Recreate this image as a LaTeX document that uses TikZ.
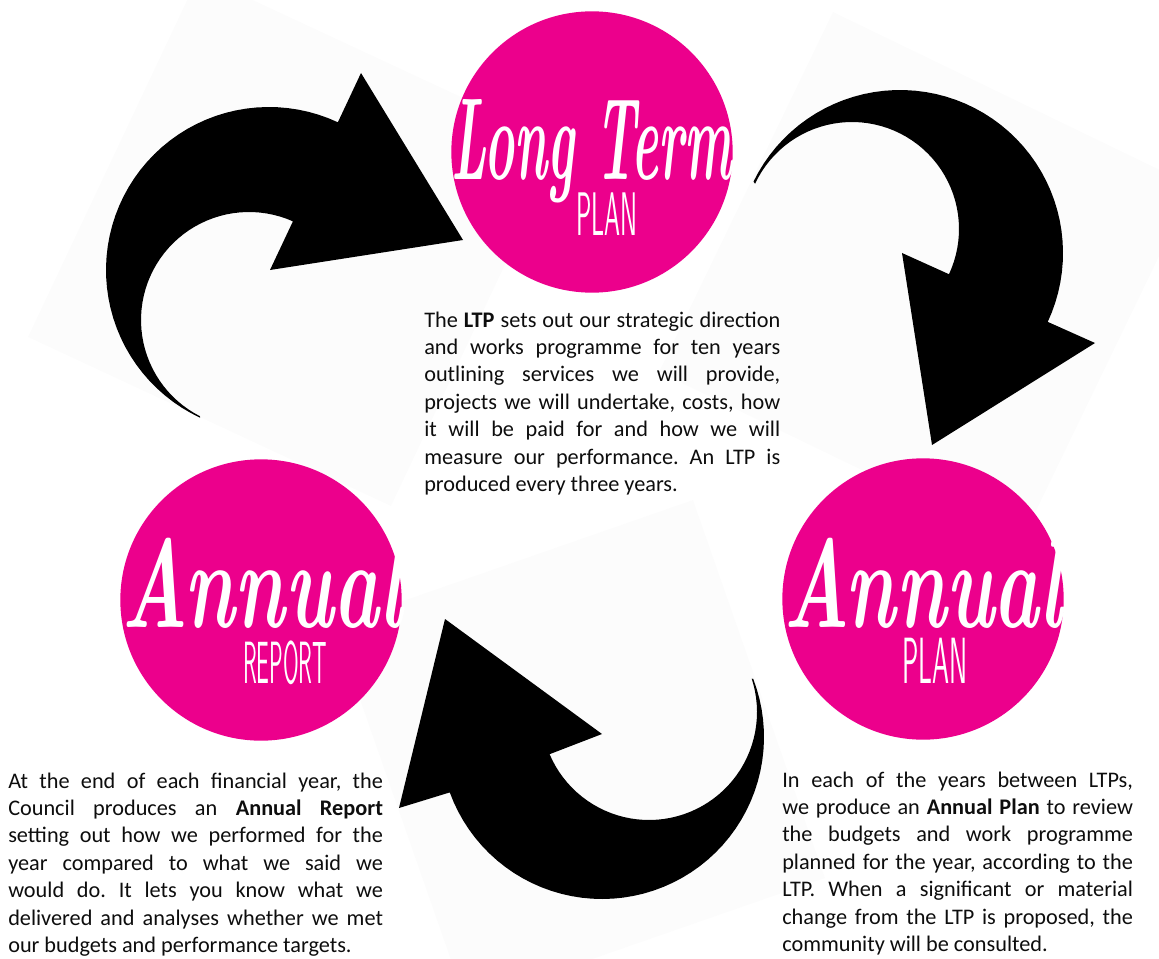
\documentclass[tikz,border=0pt]{standalone}
\usepackage{fontspec}
\setmainfont{Carlito}
\newfontfamily\brushfont{Latin Modern Roman}
\usepackage{graphicx}
\usepackage{tikz}
\usetikzlibrary{calc, positioning}
\definecolor{ltpmagenta}{HTML}{EC008C}
\frenchspacing

\begin{document}
\begin{tikzpicture}[
    x=0.75pt, y=-0.75pt,
    every node/.style={inner sep=0pt},
    stage/.style={circle, fill=ltpmagenta, minimum size=211pt},
    bigword/.style={anchor=base, text=white},
    smallword/.style={anchor=base, text=white},
    bodytext/.style={anchor=base west, align=justify, text=black!95,
        font=\fontsize{16.7pt}{20.6pt}\selectfont},
    backsheet/.style={fill=black!1},
    cyclearrow/.style={fill=black}
]

\useasboundingbox (0,0) rectangle (1159,959);

% faint sheets behind the arrows
\fill[backsheet] (28,337) -- (391,506) -- (562,144) -- (199,-25) -- cycle;
\fill[backsheet] (833,12) -- (1193,186) -- (1019,546) -- (659,372) -- cycle;
\fill[backsheet] (693,500) -- (334,625) -- (466,1003) -- (825,878) -- cycle;

% arrow: report -> long term plan (outer arc, head, inner arc)
\fill[cyclearrow] plot[domain=115:295, samples=50] ({269+163*cos(\x)}, {270+163*sin(\x)})
    -- (361,73) -- (463,240) -- (270,270)
    -- plot[domain=294:117, samples=50] ({249+108*cos(\x)}, {320+108*sin(\x)})
    -- cycle;

% arrow: long term plan -> annual plan
\fill[cyclearrow] plot[domain=206:385, samples=50] ({900+163*cos(\x)}, {253+163*sin(\x)})
    -- (1095,343) -- (932,445) -- (902,253)
    -- plot[domain=385:205, samples=50] ({852+107*cos(\x)}, {229+107*sin(\x)})
    -- cycle;

% arrow: annual plan -> report
\fill[cyclearrow] plot[domain=-21:160, samples=50] ({602+162*cos(\x)}, {737+162*sin(\x)})
    -- (399,808) -- (445,619) -- (602,734)
    -- plot[domain=157:-18, samples=50] ({649+108*cos(\x)}, {712+108*sin(\x)})
    -- cycle;

% the three stages
\node[stage] (ltp) at (592,152) {};
\node[stage] (report) at (261,600) {};
\node[stage] (plan) at (923,599) {};

\node[bigword] (ltphead) at ($(ltp)+(0,28)$) {\resizebox{210pt}{60pt}{\brushfont\bfseries\itshape Long Term}};
\node[smallword] (ltpsub) at ($(ltp)+(15,83)$) {\resizebox{46pt}{32pt}{\sffamily PLAN}};

\node[bigword] (reporthead) at ($(report)+(1,27)$) {\resizebox{210pt}{67pt}{\brushfont\bfseries\itshape Annual}};
\node[smallword] (reportsub) at ($(report)+(24,83)$) {\resizebox{63pt}{32pt}{\sffamily REPORT}};

\node[bigword] (planhead) at ($(plan)+(0,28)$) {\resizebox{209pt}{67pt}{\brushfont\bfseries\itshape Annual}};
\node[smallword] (plansub) at ($(plan)+(12,84)$) {\resizebox{49pt}{34pt}{\sffamily PLAN}};

% descriptions
\node[bodytext, text width=267pt] (ltptext) at (424,327) {The \textbf{LTP} sets out our strategic direction\linebreak
and works programme for ten years\linebreak
outlining services we will provide,\linebreak
projects we will undertake, costs, how\linebreak
it will be paid for and how we will\linebreak
measure our performance. An LTP is\linebreak
produced every three years.};

\node[bodytext, text width=281pt] (reporttext) at (8,788) {At the end of each financial year, the\linebreak
Council produces an \textbf{Annual Report}\linebreak
setting out how we performed for the\linebreak
year compared to what we said we\linebreak
would do. It lets you know what we\linebreak
delivered and analyses whether we met\linebreak
our budgets and performance targets.};

\node[bodytext, text width=263pt] (plantext) at (782,787) {In each of the years between LTPs,\linebreak
we produce an \textbf{Annual Plan} to review\linebreak
the budgets and work programme\linebreak
planned for the year, according to the\linebreak
LTP. When a significant or material\linebreak
change from the LTP is proposed, the\linebreak
community will be consulted.};

\end{tikzpicture}
\end{document}
